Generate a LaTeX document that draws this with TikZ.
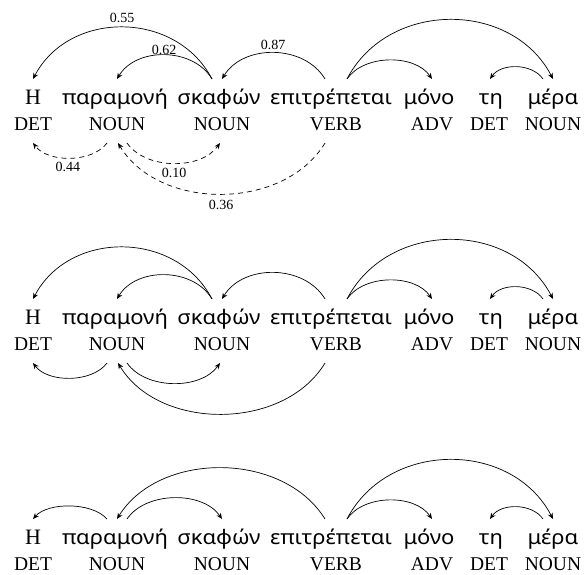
\documentclass[tikz,border=0pt]{standalone}
\usepackage{fontspec}
\setmainfont{Liberation Serif}
\newfontfamily\grk[FakeStretch=1.1]{Noto Sans}
\usetikzlibrary{arrows.meta}
\tikzset{
  wd/.style={anchor=base, inner sep=0pt, font=\grk\fontsize{20}{24}\selectfont},
  wdH/.style={anchor=base, inner sep=0pt, font=\fontsize{22}{24}\selectfont},
  tg/.style={anchor=base, inner sep=0pt, font=\fontsize{19.5}{22}\selectfont},
  arc/.style={-{Stealth[length=6pt,width=5pt,inset=2pt]}, line width=0.7pt},
  darc/.style={arc, dash pattern=on 5pt off 4pt},
  lbl/.style={inner sep=0pt, font=\fontsize{14}{16}\selectfont},
}
\newcommand\sentrow[2]{%
\begin{scope}[yshift=#2]
  \node[wdH] (#1w1) at (33,104) {Η};
  \node[wd] (#1w2) at (115,104) {παραμονή};
  \node[wd] (#1w3) at (219,104) {σκαφών};
  \node[wd] (#1w4) at (331,104) {επιτρέπεται};
  \node[wd] (#1w5) at (429,104) {μόνο};
  \node[wd] (#1w6) at (491,104) {τη};
  \node[wd] (#1w7) at (553,104) {μέρα};
  \node[tg] (#1t1) at (33,130) {DET};
  \node[tg] (#1t2) at (117,130) {NOUN};
  \node[tg] (#1t3) at (222,130) {NOUN};
  \node[tg] (#1t4) at (336,130) {VERB};
  \node[tg] (#1t5) at (432,130) {ADV};
  \node[tg] (#1t6) at (489,130) {DET};
  \node[tg] (#1t7) at (553,130) {NOUN};
  \coordinate (#1hT) at (33,79);
  \coordinate (#1pT) at (117,79);
  \coordinate (#1pL) at (107,79);
  \coordinate (#1pR) at (127,79);
  \coordinate (#1sO) at (212,79);
  \coordinate (#1sI) at (222,79);
  \coordinate (#1eL) at (325,79);
  \coordinate (#1eR) at (347,79);
  \coordinate (#1mT) at (432,79);
  \coordinate (#1tT) at (490,79);
  \coordinate (#1rI) at (553,79);
  \coordinate (#1rO) at (543,79);
  \coordinate (#1hB) at (33,143);
  \coordinate (#1pBL) at (107,143);
  \coordinate (#1pB) at (118,143);
  \coordinate (#1pBR) at (127,143);
  \coordinate (#1sB) at (220,143);
  \coordinate (#1eB) at (325,143);
\end{scope}}
\begin{document}
\begin{tikzpicture}[x=1pt,y=-1pt]
\useasboundingbox (0,0) rectangle (587,574);
\sentrow{a}{0pt}
\sentrow{b}{-220pt}
\sentrow{c}{-440pt}
% ---- row 1
\draw[arc] (asO) .. controls +(-36,-69) and +(36,-69) .. (ahT);
\draw[arc] (asO) .. controls +(-19,-32) and +(19,-32) .. (apT);
\draw[arc] (aeL) .. controls +(-21,-35) and +(21,-35) .. (asI);
\draw[arc] (aeR) .. controls +(17,-25) and +(-17,-25) .. (amT);
\draw[arc] (aeR) .. controls +(41,-79) and +(-41,-79) .. (arI);
\draw[arc] (arO) .. controls +(-11,-16) and +(11,-16) .. (atT);
\draw[darc] (apBL) .. controls +(-15,20) and +(15,20) .. (ahB);
\draw[darc] (apBR) .. controls +(19,27) and +(-19,27) .. (asB);
\draw[darc] (aeB) .. controls +(-41,68) and +(41,68) .. (apB);
\node[lbl] (l55) at (122,18) {0.55};
\node[lbl] (l62) at (164,50) {0.62};
\node[lbl] (l87) at (273,45) {0.87};
\node[lbl] (l44) at (68,167) {0.44};
\node[lbl] (l10) at (174,173) {0.10};
\node[lbl] (l36) at (221,205) {0.36};
% ---- row 2
\draw[arc] (bsO) .. controls +(-36,-69) and +(36,-69) .. (bhT);
\draw[arc] (bsO) .. controls +(-19,-32) and +(19,-32) .. (bpT);
\draw[arc] (beL) .. controls +(-21,-35) and +(21,-35) .. (bsI);
\draw[arc] (beR) .. controls +(17,-25) and +(-17,-25) .. (bmT);
\draw[arc] (beR) .. controls +(41,-79) and +(-41,-79) .. (brI);
\draw[arc] (brO) .. controls +(-11,-16) and +(11,-16) .. (btT);
\draw[arc] (bpBL) .. controls +(-15,20) and +(15,20) .. (bhB);
\draw[arc] (bpBR) .. controls +(19,27) and +(-19,27) .. (bsB);
\draw[arc] (beB) .. controls +(-41,68) and +(41,68) .. (bpB);
% ---- row 3
\draw[arc] (cpL) .. controls +(-15,-17) and +(15,-17) .. (chT);
\draw[arc] (ceL) .. controls +(-42,-68) and +(42,-68) .. (cpT);
\draw[arc] (cpR) .. controls +(19,-28) and +(-19,-28) .. (csI);
\draw[arc] (ceR) .. controls +(17,-25) and +(-17,-25) .. (cmT);
\draw[arc] (ceR) .. controls +(41,-79) and +(-41,-79) .. (crI);
\draw[arc] (crO) .. controls +(-11,-16) and +(11,-16) .. (ctT);
\end{tikzpicture}
\end{document}
